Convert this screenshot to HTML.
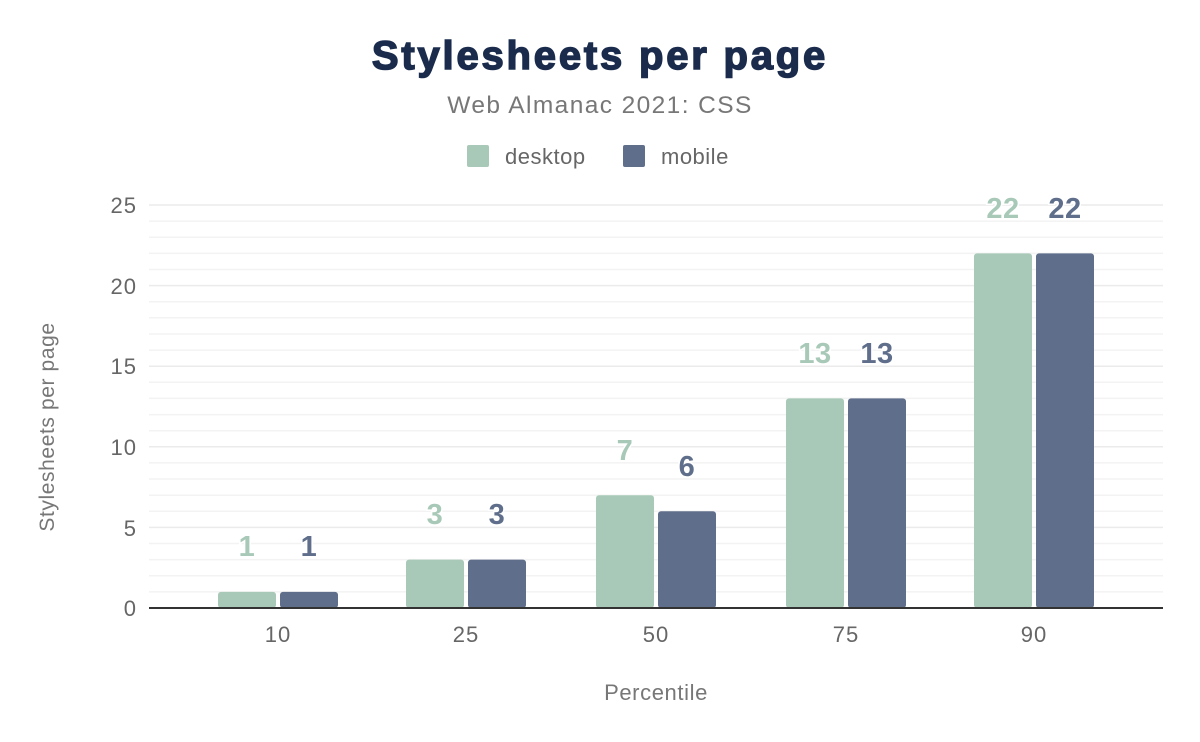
<!DOCTYPE html>
<html><head><meta charset="utf-8"><style>
body{margin:0;background:#fff;}
svg{display:block;font-family:"Liberation Sans",Arial,sans-serif;}
</style></head><body>
<svg width="1200" height="742" viewBox="0 0 1200 742" xmlns="http://www.w3.org/2000/svg">
<rect width="1200" height="742" fill="#fff"/>
<text x="600" y="69" text-anchor="middle" font-size="40" font-weight="900" letter-spacing="2.8" fill="#1a2b4c" stroke="#1a2b4c" stroke-width="1.5">Stylesheets per page</text>
<text x="600" y="113" text-anchor="middle" font-size="24.5" letter-spacing="1.4" fill="#777">Web Almanac 2021: CSS</text>
<rect x="467" y="145" width="22" height="22" rx="2" fill="#a8c9b8"/>
<text x="505" y="164" font-size="22" letter-spacing="0.5" fill="#666">desktop</text>
<rect x="623" y="145" width="22" height="22" rx="2" fill="#5f6e8a"/>
<text x="661" y="164" font-size="22" letter-spacing="0.5" fill="#666">mobile</text>
<g stroke="#f3f3f3" stroke-width="1.5">
<line x1="149" x2="1163" y1="221.1" y2="221.1"/><line x1="149" x2="1163" y1="237.2" y2="237.2"/><line x1="149" x2="1163" y1="253.4" y2="253.4"/><line x1="149" x2="1163" y1="269.5" y2="269.5"/>
<line x1="149" x2="1163" y1="301.7" y2="301.7"/><line x1="149" x2="1163" y1="317.8" y2="317.8"/><line x1="149" x2="1163" y1="334" y2="334"/><line x1="149" x2="1163" y1="350.1" y2="350.1"/>
<line x1="149" x2="1163" y1="382.3" y2="382.3"/><line x1="149" x2="1163" y1="398.4" y2="398.4"/><line x1="149" x2="1163" y1="414.6" y2="414.6"/><line x1="149" x2="1163" y1="430.7" y2="430.7"/>
<line x1="149" x2="1163" y1="462.9" y2="462.9"/><line x1="149" x2="1163" y1="479" y2="479"/><line x1="149" x2="1163" y1="495.2" y2="495.2"/><line x1="149" x2="1163" y1="511.3" y2="511.3"/>
<line x1="149" x2="1163" y1="543.5" y2="543.5"/><line x1="149" x2="1163" y1="559.6" y2="559.6"/><line x1="149" x2="1163" y1="575.8" y2="575.8"/><line x1="149" x2="1163" y1="591.9" y2="591.9"/>
</g>
<g stroke="#ebebeb" stroke-width="1.5">
<line x1="149" x2="1163" y1="205" y2="205"/><line x1="149" x2="1163" y1="285.6" y2="285.6"/><line x1="149" x2="1163" y1="366.2" y2="366.2"/><line x1="149" x2="1163" y1="446.8" y2="446.8"/><line x1="149" x2="1163" y1="527.4" y2="527.4"/>
</g>
<g font-size="22" letter-spacing="1" fill="#666" text-anchor="end">
<text x="137" y="213">25</text><text x="137" y="294">20</text><text x="137" y="374">15</text><text x="137" y="455">10</text><text x="137" y="536">5</text><text x="137" y="616">0</text>
</g>
<text transform="translate(54,427) rotate(-90)" text-anchor="middle" font-size="21" letter-spacing="0.6" fill="#777">Stylesheets per page</text>
<g fill="#a8c9b8">
<rect x="218" y="591.9" width="58" height="16.1" rx="3"/>
<rect x="406" y="559.6" width="58" height="48.4" rx="3"/>
<rect x="596" y="495.2" width="58" height="112.8" rx="3"/>
<rect x="786" y="398.4" width="58" height="209.6" rx="3"/>
<rect x="974" y="253.4" width="58" height="354.6" rx="3"/>
</g>
<g fill="#5f6e8a">
<rect x="280" y="591.9" width="58" height="16.1" rx="3"/>
<rect x="468" y="559.6" width="58" height="48.4" rx="3"/>
<rect x="658" y="511.3" width="58" height="96.7" rx="3"/>
<rect x="848" y="398.4" width="58" height="209.6" rx="3"/>
<rect x="1036" y="253.4" width="58" height="354.6" rx="3"/>
</g>
<line x1="149" x2="1163" y1="608" y2="608" stroke="#333" stroke-width="2"/>
<g font-size="29" font-weight="bold" letter-spacing="0.5" text-anchor="middle" fill="#a8c9b8" stroke="#fff" stroke-width="3" paint-order="stroke">
<text x="247" y="556">1</text><text x="435" y="524">3</text><text x="625" y="460">7</text><text x="815" y="363">13</text><text x="1003" y="218">22</text>
</g>
<g font-size="29" font-weight="bold" letter-spacing="0.5" text-anchor="middle" fill="#5f6e8a" stroke="#fff" stroke-width="3" paint-order="stroke">
<text x="309" y="556">1</text><text x="497" y="524">3</text><text x="687" y="476">6</text><text x="877" y="363">13</text><text x="1065" y="218">22</text>
</g>
<g font-size="22" letter-spacing="1" fill="#666" text-anchor="middle">
<text x="278" y="642">10</text><text x="466" y="642">25</text><text x="656" y="642">50</text><text x="846" y="642">75</text><text x="1034" y="642">90</text>
</g>
<text x="656" y="700" text-anchor="middle" font-size="22" letter-spacing="0.6" fill="#777">Percentile</text>
</svg>
</body></html>
